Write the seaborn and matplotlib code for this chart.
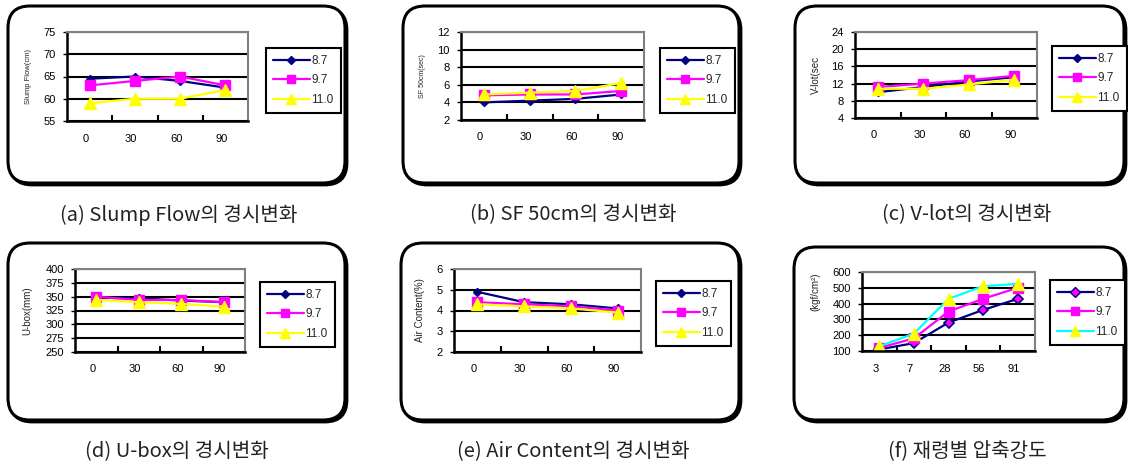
import numpy as np
import pandas as pd
import matplotlib
matplotlib.use("Agg")
import matplotlib.pyplot as plt
import seaborn as sns
from matplotlib.patches import FancyBboxPatch
from matplotlib.lines import Line2D
from matplotlib.transforms import ScaledTranslation

# ---------------- data ----------------
series = ["8.7", "9.7", "11.0"]
time_cats = ["0", "30", "60", "90"]
age_cats = ["3", "7", "28", "56", "91"]

slump_87 = [64.5, 65.0, 64.0, 62.5]
slump_97 = [63.0, 64.0, 65.0, 63.0]
slump_110 = [59.0, 60.0, 60.0, 62.0]

sf50_87 = [4.0, 4.2, 4.4, 4.9]
sf50_97 = [4.8, 4.9, 4.9, 5.3]
sf50_110 = [4.9, 5.1, 5.3, 6.2]

vlot_87 = [10.0, 11.2, 12.5, 13.5]
vlot_97 = [11.2, 12.0, 12.8, 13.8]
vlot_110 = [10.8, 10.8, 11.8, 12.9]

ubox_87 = [348, 347, 343, 340]
ubox_97 = [350, 344, 344, 340]
ubox_110 = [344, 340, 337, 332]

air_87 = [4.9, 4.4, 4.3, 4.1]
air_97 = [4.4, 4.3, 4.2, 4.0]
air_110 = [4.3, 4.2, 4.1, 3.9]

comp_87 = [110, 150, 280, 360, 430]
comp_97 = [120, 180, 350, 430, 500]
comp_110 = [130, 210, 430, 510, 525]

captions = ["(a) Slump Flow의 경시변화", "(b) SF 50cm의 경시변화", "(c) V-lot의 경시변화",
            "(d) U-box의 경시변화", "(e) Air Content의 경시변화", "(f) 재령별 압축강도"]
ylabels = ["Slump Flow(cm)", "SF 50cm(sec)", "V-lot(sec", "U-box(mm)", "Air Content(%)", "(kgf/cm²)"]

# ---------------- style ----------------
sns.set_theme(style="white")
plt.rcParams["font.family"] = ["Liberation Sans", "Noto Sans CJK KR", "DejaVu Sans"]

W, H = 1128, 470
fig = plt.figure(figsize=(W / 100, H / 100), dpi=100)

NAVY, MAG, YEL, CYAN = "#000080", "#FF00FF", "#FFFF00", "#00FFFF"

# background axes in pixel coordinates
bg = fig.add_axes([0, 0, 1, 1])
bg.set_xlim(0, W)
bg.set_ylim(H, 0)
bg.axis("off")


def rect(x0, y0, x1, y1):
    return [x0 / W, 1 - y1 / H, (x1 - x0) / W, (y1 - y0) / H]


panels = [
    dict(box=(8, 6, 345, 183), plot=(67, 32, 248, 121), leg=(266, 48), cap=(179, 215),
         cats=time_cats, vals=[slump_87, slump_97, slump_110], ylim=(55, 75), step=5, ylx=32, yly=0.5, yfs=5.5),
    dict(box=(403, 6, 739, 183), plot=(461, 32, 644, 120), leg=(660, 48), cap=(573, 215),
         cats=time_cats, vals=[sf50_87, sf50_97, sf50_110], ylim=(2, 12), step=2, ylx=426, yly=0.5, yfs=5.0),
    dict(box=(795, 6, 1124, 183), plot=(855, 32, 1037, 118), leg=(1052, 46), cap=(967, 215),
         cats=time_cats, vals=[vlot_87, vlot_97, vlot_110], ylim=(4, 24), step=4, ylx=821, yly=0.5, yfs=7.0),
    dict(box=(8, 243, 345, 420), plot=(75, 269, 245, 352), leg=(260, 282), cap=(177, 452),
         cats=time_cats, vals=[ubox_87, ubox_97, ubox_110], ylim=(250, 400), step=25, ylx=32, yly=0.5, yfs=7.0),
    dict(box=(401, 243, 739, 420), plot=(454, 269, 641, 352), leg=(656, 281), cap=(573, 452),
         cats=time_cats, vals=[air_87, air_97, air_110], ylim=(2, 6), step=1, ylx=425, yly=0.5, yfs=7.0),
    dict(box=(794, 247, 1124, 420), plot=(862, 272, 1035, 351), leg=(1050, 280), cap=(967, 452),
         cats=age_cats, vals=[comp_87, comp_97, comp_110], ylim=(100, 600), step=100, ylx=820, yly=0.75, yfs=7.0),
]

for i, p in enumerate(panels):
    x0, y0, x1, y1 = p["box"]
    # shadow + rounded frame
    bg.add_patch(FancyBboxPatch((x0 + 2, y0 + 2), x1 - x0, y1 - y0,
                                boxstyle="round,pad=0,rounding_size=22",
                                facecolor="black", edgecolor="black", linewidth=2))
    bg.add_patch(FancyBboxPatch((x0, y0), x1 - x0, y1 - y0,
                                boxstyle="round,pad=0,rounding_size=22",
                                facecolor="white", edgecolor="black", linewidth=2.2))
    bg.text(p["cap"][0], p["cap"][1], captions[i], ha="center", va="center",
            fontsize=14.5, family=["Noto Sans CJK KR", "DejaVu Sans"], color="#222222")

    is_f = (i == 5)
    cats = p["cats"]
    df = pd.DataFrame({
        "t": cats * 3,
        "v": p["vals"][0] + p["vals"][1] + p["vals"][2],
        "s": [s for s in series for _ in cats],
    })
    line_cols = {"8.7": NAVY, "9.7": MAG, "11.0": CYAN if is_f else YEL}

    ax = fig.add_axes(rect(*p["plot"]))
    sns.pointplot(data=df, x="t", y="v", hue="s", order=cats, hue_order=series,
                  palette=line_cols, markers=["D", "s", "^"], linestyles="-",
                  errorbar=None, ax=ax, legend=False, linewidth=1.6)

    specs = [
        dict(color=NAVY, mfc=MAG if is_f else NAVY, mec=NAVY, ms=5.5 if is_f else 4.5, mew=1.2 if is_f else 1),
        dict(color=MAG, mfc=MAG, mec=MAG, ms=7.5, mew=1),
        dict(color=CYAN if is_f else YEL, mfc=YEL, mec=YEL, ms=8.5, mew=1),
    ]
    for ln, sp in zip(ax.lines, specs):
        ln.set_color(sp["color"])
        ln.set_markerfacecolor(sp["mfc"])
        ln.set_markeredgecolor(sp["mec"])
        ln.set_markersize(sp["ms"])
        ln.set_markeredgewidth(sp["mew"])
        ln.set_linewidth(1.6)

    n = len(cats)
    ax.set_xlim(-0.5, n - 0.5)
    lo, hi = p["ylim"]
    ax.set_ylim(lo, hi)
    ax.set_yticks(np.arange(lo, hi + p["step"] / 2, p["step"]))
    ax.set_xticks(range(n))
    ax.set_xticklabels(cats)
    ax.set_xticks(np.arange(0.5, n - 0.5, 1.0), minor=True)
    ax.tick_params(axis="x", which="major", length=0, pad=9, labelsize=8, colors="black")
    ax.tick_params(axis="x", which="minor", direction="in", length=4, width=1.5, color="black", bottom=True)
    ax.tick_params(axis="y", which="major", direction="out", length=3, width=1, pad=5,
                   labelsize=8, colors="black", left=True)
    for lab in ax.get_xticklabels():
        lab.set_transform(lab.get_transform() + ScaledTranslation(-4 / 100, 0, fig.dpi_scale_trans))

    ax.yaxis.grid(True, color="black", linewidth=1.5)
    ax.xaxis.grid(False)
    ax.set_axisbelow(True)
    for side in ["left", "bottom"]:
        ax.spines[side].set_color("black")
        ax.spines[side].set_linewidth(1.8)
    for side in ["top", "right"]:
        ax.spines[side].set_color("#808080")
        ax.spines[side].set_linewidth(1.5)
    ax.set_xlabel("")
    ax.set_ylabel(ylabels[i], fontsize=p["yfs"], color="#222222")
    px0 = p["plot"][0]
    pw = p["plot"][2] - p["plot"][0]
    ax.yaxis.set_label_coords((p["ylx"] - px0) / pw, p["yly"])

    handles = [Line2D([0], [0], color=sp["color"], lw=1.6, marker=m, markersize=sp["ms"] * 0.85,
                      markerfacecolor=sp["mfc"], markeredgecolor=sp["mec"])
               for sp, m in zip(specs, ["D", "s", "^"])]
    leg = fig.legend(handles, series, loc="upper left",
                     bbox_to_anchor=(p["leg"][0] / W, 1 - p["leg"][1] / H),
                     bbox_transform=fig.transFigure, borderaxespad=0,
                     frameon=True, fancybox=False, framealpha=1, edgecolor="black",
                     fontsize=8.5, handlelength=3.1, handletextpad=0.15,
                     labelspacing=0.62, borderpad=0.6)
    leg.get_frame().set_linewidth(1.5)

fig.savefig("out.png", dpi=100)
